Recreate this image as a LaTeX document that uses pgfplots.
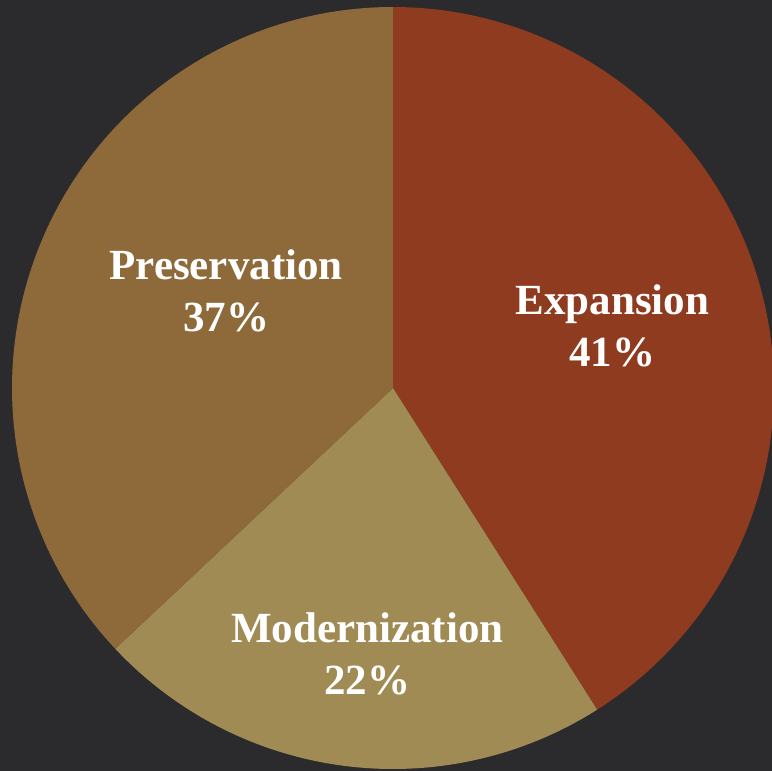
\documentclass[border=0pt]{standalone}
\usepackage{pgfplots}
\pgfplotsset{compat=1.18}
\usepackage{fontspec}
\setmainfont{Liberation Serif}
\definecolor{bg}{HTML}{2B2B2E}
\definecolor{cE}{HTML}{8E3B20}
\definecolor{cM}{HTML}{A08B55}
\definecolor{cP}{HTML}{8E6A3B}
% shares (percent)
\def\vE{41}\def\vM{22}\def\vP{37}
\pgfmathsetmacro{\aE}{90-\vE*3.6}
\pgfmathsetmacro{\aM}{90-(\vE+\vM)*3.6}
\pgfmathsetmacro{\aP}{90-(\vE+\vM+\vP)*3.6}
\begin{document}
\begin{tikzpicture}
\fill[bg] (0,0) rectangle (772pt,771pt);
\begin{axis}[
  at={(0,0)}, anchor=south west,
  scale only axis, width=772pt, height=771pt,
  xmin=-1.0315, xmax=0.9948, ymin=-1.0052, ymax=1.0184,
  hide axis, clip=true,
]
\addplot[fill=cE, draw=none, domain=\aE:90, samples=200, variable=\t] ({cos(\t)},{sin(\t)}) -- (axis cs:0,0) -- cycle;
\addplot[fill=cM, draw=none, domain=\aM:\aE, samples=120, variable=\t] ({cos(\t)},{sin(\t)}) -- (axis cs:0,0) -- cycle;
\addplot[fill=cP, draw=none, domain=\aP:\aM, samples=200, variable=\t] ({cos(\t)},{sin(\t)}) -- (axis cs:0,0) -- cycle;
\node[text=white, font=\fontsize{43}{52}\selectfont\bfseries, align=center] at (axis cs:0.576,0.163) {Expansion\\41\%};
\node[text=white, font=\fontsize{43}{52}\selectfont\bfseries, align=center] at (axis cs:-0.438,0.255) {Preservation\\37\%};
\node[text=white, font=\fontsize{43}{52}\selectfont\bfseries, align=center] at (axis cs:-0.067,-0.698) {Modernization\\22\%};
\end{axis}
\end{tikzpicture}
\end{document}
